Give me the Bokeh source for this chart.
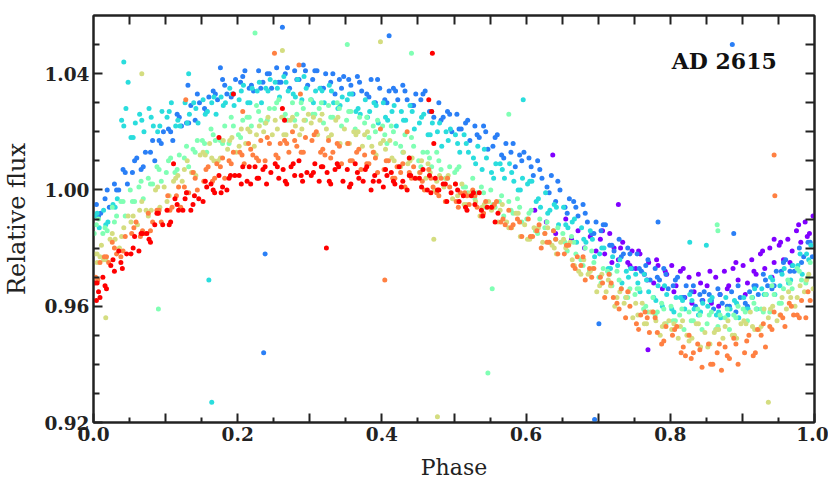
from bokeh.plotting import figure
from bokeh.models import LinearAxis, FixedTicker, Range1d, Label, NumeralTickFormatter
from bokeh.embed import file_html
from bokeh.resources import INLINE

# ---------------- data (phase, relative flux) ----------------
purple_phase = [0.612,0.628,0.641,0.655,0.663,0.672,0.681,0.689,0.697,
    0.703,0.709,0.716,0.722,0.728,0.734,0.741,0.747,0.752,0.758,0.764,0.770,0.777,0.783,0.789,0.795,
    0.802,0.808,0.814,0.820,0.826,0.833,0.839,0.845,0.851,0.857,0.863,0.869,0.875,0.881,0.887,0.894,
    0.901,0.907,0.913,0.919,0.925,0.931,0.938,0.944,0.951,0.957,0.963,0.969,0.975,0.981,0.987,0.993,0.998,
    0.706,0.719,0.731,0.744,0.756,0.768,0.781,0.793,0.805,0.818,0.830,0.842,
    0.855,0.867,0.879,0.891,0.904,0.916,0.928,0.941,0.953,0.966,0.978,0.990,
    0.637,0.728,0.769,0.944]
purple_flux = [0.993,0.989,0.985,0.990,0.983,0.986,0.980,0.984,0.979,
    0.983,0.978,0.985,0.980,0.976,0.982,0.975,0.979,0.973,0.978,0.971,0.975,0.968,0.974,0.966,0.971,
    0.974,0.967,0.972,0.963,0.970,0.965,0.971,0.962,0.967,0.961,0.970,0.964,0.972,0.967,0.973,0.969,
    0.974,0.968,0.976,0.971,0.978,0.973,0.980,0.975,0.981,0.976,0.983,0.979,0.986,0.982,0.989,0.985,0.991,
    0.986,0.975,0.980,0.974,0.979,0.969,0.976,0.972,0.965,0.973,0.961,0.968,
    0.972,0.960,0.966,0.975,0.964,0.972,0.979,0.970,0.982,0.975,0.988,0.984,
    1.012,0.995,0.945,0.983]

blue_phase = [0.004,0.010,0.016,0.022,0.029,0.035,0.041,0.047, 0.054,0.060,0.066,0.072,0.079,0.085,0.091,0.097,
    0.104,0.110,0.116,0.122,0.129,0.135,0.141,0.147, 0.154,0.160,0.166,0.172,0.179,0.185,0.191,0.197,
    0.204,0.210,0.216,0.222,0.229,0.235,0.241,0.247, 0.254,0.260,0.266,0.272,0.279,0.285,0.291,0.297,
    0.304,0.310,0.316,0.322,0.329,0.335,0.341,0.347, 0.354,0.360,0.366,0.372,0.379,0.385,0.391,0.397,
    0.404,0.410,0.416,0.422,0.429,0.435,0.441,0.447, 0.454,0.460,0.466,0.472,0.479,0.485,0.491,0.497,
    0.504,0.510,0.516,0.522,0.529,0.535,0.541,0.547, 0.554,0.560,0.566,0.572,0.579,0.585,0.591,0.597,
    0.604,0.610,0.616,0.622,0.629,0.635,0.641,0.647, 0.654,0.660,0.666,0.672,0.679,0.685,0.691,0.697,
    0.704,0.710,0.716,0.722,0.729,0.735,0.741,0.747, 0.754,0.760,0.766,0.772,0.779,0.785,0.791,0.797,
    0.804,0.810,0.816,0.822,0.829,0.835,0.841,0.847, 0.854,0.860,0.866,0.872,0.879,0.885,0.891,0.897,
    0.904,0.910,0.916,0.922,0.929,0.935,0.941,0.947, 0.954,0.960,0.966,0.972,0.979,0.985,0.991,0.997,
    0.007,0.019,0.032,0.044, 0.057,0.069,0.082,0.094, 0.107,0.119,0.132,0.144, 0.157,0.169,0.182,0.194,
    0.207,0.219,0.232,0.244, 0.257,0.269,0.282,0.294, 0.307,0.319,0.332,0.344, 0.357,0.369,0.382,0.394,
    0.407,0.419,0.432,0.444, 0.457,0.469,0.482,0.494, 0.507,0.519,0.532,0.544, 0.557,0.569,0.582,0.594,
    0.607,0.619,0.632,0.644, 0.657,0.669,0.682,0.694, 0.707,0.719,0.732,0.744, 0.757,0.769,0.782,0.794,
    0.807,0.819,0.832,0.844, 0.857,0.869,0.882,0.894, 0.907,0.919,0.932,0.944, 0.957,0.969,0.982,0.994,
    0.238,0.236,0.262,0.410,0.176,0.695,0.701,0.783,0.886,0.888,0.131]
blue_flux = [0.995,0.992,0.997,0.994,1.002,1.000,1.007,1.002, 1.006,1.011,1.007,1.013,1.013,1.010,1.017,1.020,
    1.021,1.017,1.026,1.022,1.023,1.029,1.024,1.030, 1.028,1.032,1.034,1.031,1.038,1.033,1.032,1.038,
    1.037,1.041,1.035,1.034,1.041,1.037,1.040,1.035, 1.042,1.037,1.040,1.035,1.041,1.038,1.043,1.036,
    1.038,1.041,1.035,1.040,1.037,1.033,1.038,1.039, 1.038,1.033,1.039,1.034,1.033,1.038,1.030,1.035,
    1.031,1.034,1.035,1.031,1.036,1.031,1.029,1.033, 1.031,1.034,1.027,1.025,1.030,1.025,1.027,1.020,
    1.026,1.021,1.023,1.017,1.022,1.018,1.022,1.014, 1.015,1.019,1.012,1.016,1.013,1.008,1.012,1.013,
    1.011,1.005,1.010,1.004,1.001,1.005,0.996,1.000, 0.994,0.997,0.996,0.991,0.995,0.989,0.985,0.989,
    0.986,0.988,0.981,0.979,0.983,0.978,0.980,0.973, 0.978,0.972,0.974,0.969,0.973,0.969,0.973,0.966,
    0.967,0.970,0.963,0.967,0.965,0.960,0.964,0.965, 0.964,0.959,0.966,0.961,0.960,0.965,0.958,0.963,
    0.961,0.965,0.967,0.964,0.971,0.967,0.966,0.972, 0.972,0.976,0.972,0.972,0.980,0.977,0.982,0.977,
    0.991,1.000,1.000,1.006, 1.010,1.008,1.017,1.016, 1.020,1.025,1.023,1.033, 1.027,1.033,1.036,1.033,
    1.039,1.036,1.035,1.040, 1.037,1.042,1.038,1.041, 1.041,1.035,1.040,1.035, 1.036,1.037,1.032,1.038,
    1.030,1.034,1.034,1.029, 1.033,1.027,1.024,1.026, 1.021,1.024,1.019,1.020, 1.018,1.011,1.016,1.010,
    1.008,1.007,0.999,1.003, 0.992,0.994,0.992,0.985, 0.988,0.981,0.977,0.978, 0.973,0.976,0.970,0.971,
    0.969,0.963,0.967,0.962, 0.962,0.964,0.960,0.967, 0.960,0.967,0.969,0.967, 0.975,0.974,0.975,0.982,
    0.978,0.944,1.056,1.053,1.042,0.921,0.954,0.989,1.050,0.985,1.036]

cyan_phase = [0.002,0.008,0.014,0.020,0.027,0.033,0.039,0.045, 0.052,0.058,0.064,0.070,0.077,0.083,0.089,0.095,
    0.102,0.108,0.114,0.120,0.127,0.133,0.139,0.145, 0.152,0.158,0.164,0.170,0.177,0.183,0.189,0.195,
    0.202,0.208,0.214,0.220,0.227,0.233,0.239,0.245, 0.252,0.258,0.264,0.270,0.277,0.283,0.289,0.295,
    0.302,0.308,0.314,0.320,0.327,0.333,0.339,0.345, 0.352,0.358,0.364,0.370,0.377,0.383,0.389,0.395,
    0.402,0.408,0.414,0.420,0.427,0.433,0.439,0.445, 0.452,0.458,0.464,0.470,0.477,0.483,0.489,0.495,
    0.502,0.508,0.514,0.520,0.527,0.533,0.539,0.545, 0.552,0.558,0.564,0.570,0.577,0.583,0.589,0.595,
    0.602,0.608,0.614,0.620,0.627,0.633,0.639,0.645, 0.652,0.658,0.664,0.670,0.677,0.683,0.689,0.695,
    0.702,0.708,0.714,0.720,0.727,0.733,0.739,0.745, 0.752,0.758,0.764,0.770,0.777,0.783,0.789,0.795,
    0.802,0.808,0.814,0.820,0.827,0.833,0.839,0.845, 0.852,0.858,0.864,0.870,0.877,0.883,0.889,0.895,
    0.902,0.908,0.914,0.920,0.927,0.933,0.939,0.945, 0.952,0.958,0.964,0.970,0.977,0.983,0.989,0.995,
    0.005,0.017,0.030,0.042, 0.055,0.067,0.080,0.092, 0.105,0.117,0.130,0.142, 0.155,0.167,0.180,0.192,
    0.205,0.217,0.230,0.242, 0.255,0.267,0.280,0.292, 0.305,0.317,0.330,0.342, 0.355,0.367,0.380,0.392,
    0.405,0.417,0.430,0.442, 0.455,0.467,0.480,0.492, 0.505,0.517,0.530,0.542, 0.555,0.567,0.580,0.592,
    0.605,0.617,0.630,0.642, 0.655,0.667,0.680,0.692, 0.705,0.717,0.730,0.742, 0.755,0.767,0.780,0.792,
    0.805,0.817,0.830,0.842, 0.855,0.867,0.880,0.892, 0.905,0.917,0.930,0.942, 0.955,0.967,0.980,0.992,
    0.160,0.164,0.042,0.048,0.596,0.827,0.850,0.132]
cyan_flux = [0.991,0.987,0.993,0.989,0.995,0.997,1.024,1.028, 1.018,1.023,1.026,1.020,1.028,1.022,1.020,1.027,
    1.025,1.030,1.022,1.022,1.030,1.026,1.030,1.023, 1.031,1.027,1.030,1.026,1.032,1.030,1.035,1.029,
    1.031,1.036,1.030,1.035,1.034,1.030,1.035,1.038, 1.037,1.032,1.039,1.034,1.033,1.038,1.031,1.035,
    1.031,1.034,1.035,1.030,1.036,1.030,1.028,1.032, 1.031,1.033,1.027,1.026,1.031,1.027,1.030,1.023,
    1.030,1.024,1.027,1.022,1.027,1.024,1.029,1.021, 1.023,1.026,1.019,1.023,1.020,1.015,1.020,1.021,
    1.019,1.013,1.019,1.013,1.011,1.015,1.007,1.011, 1.006,1.009,1.009,1.004,1.009,1.003,1.000,1.004,
    1.002,1.003,0.996,0.994,0.999,0.993,0.995,0.988, 0.994,0.987,0.989,0.982,0.987,0.982,0.986,0.977,
    0.978,0.980,0.973,0.977,0.974,0.968,0.972,0.973, 0.971,0.965,0.971,0.965,0.963,0.967,0.960,0.964,
    0.959,0.963,0.963,0.959,0.964,0.959,0.957,0.961, 0.960,0.963,0.957,0.956,0.963,0.959,0.962,0.956,
    0.963,0.959,0.963,0.959,0.966,0.964,0.970,0.964, 0.967,0.973,0.968,0.974,0.974,0.971,0.978,0.981,
    0.992,0.988,0.994,1.022, 1.018,1.024,1.025,1.022, 1.027,1.024,1.023,1.028, 1.026,1.032,1.029,1.033,
    1.034,1.030,1.037,1.034, 1.035,1.037,1.032,1.039, 1.030,1.034,1.034,1.029, 1.033,1.028,1.025,1.029,
    1.025,1.029,1.024,1.027, 1.025,1.019,1.023,1.017, 1.016,1.016,1.009,1.014, 1.004,1.007,1.006,1.000,
    1.003,0.997,0.992,0.994, 0.988,0.990,0.983,0.983, 0.980,0.973,0.976,0.970, 0.968,0.969,0.962,0.967,
    0.958,0.962,0.962,0.958, 0.962,0.958,0.957,0.961, 0.959,0.966,0.964,0.969, 0.971,0.969,0.978,0.976,
    0.969,0.927,1.044,1.037,1.031,0.982,0.981,1.040]

aqua_phase = [0.001,0.007,0.013,0.019,0.026,0.032,0.038,0.044, 0.051,0.057,0.063,0.069,0.076,0.082,0.088,0.094,
    0.101,0.107,0.113,0.119,0.126,0.132,0.138,0.144, 0.151,0.157,0.163,0.169,0.176,0.182,0.188,0.194,
    0.201,0.207,0.213,0.219,0.226,0.232,0.238,0.244, 0.251,0.257,0.263,0.269,0.276,0.282,0.288,0.294,
    0.301,0.307,0.313,0.319,0.326,0.332,0.338,0.344, 0.351,0.357,0.363,0.369,0.376,0.382,0.388,0.394,
    0.401,0.407,0.413,0.419,0.426,0.432,0.438,0.444, 0.451,0.457,0.463,0.469,0.476,0.482,0.488,0.494,
    0.501,0.507,0.513,0.519,0.526,0.532,0.538,0.544, 0.551,0.557,0.563,0.569,0.576,0.582,0.588,0.594,
    0.601,0.607,0.613,0.619,0.626,0.632,0.638,0.644, 0.651,0.657,0.663,0.669,0.676,0.682,0.688,0.694,
    0.701,0.707,0.713,0.719,0.726,0.732,0.738,0.744, 0.751,0.757,0.763,0.769,0.776,0.782,0.788,0.794,
    0.801,0.807,0.813,0.819,0.826,0.832,0.838,0.844, 0.851,0.857,0.863,0.869,0.876,0.882,0.888,0.894,
    0.901,0.907,0.913,0.919,0.926,0.932,0.938,0.944, 0.951,0.957,0.963,0.969,0.976,0.982,0.988,0.994,
    0.004,0.016,0.029,0.041, 0.054,0.066,0.079,0.091, 0.104,0.116,0.129,0.141, 0.154,0.166,0.179,0.191,
    0.204,0.216,0.229,0.241, 0.254,0.266,0.279,0.291, 0.304,0.316,0.329,0.341, 0.354,0.366,0.379,0.391,
    0.404,0.416,0.429,0.441, 0.454,0.466,0.479,0.491, 0.504,0.516,0.529,0.541, 0.554,0.566,0.579,0.591,
    0.604,0.616,0.629,0.641, 0.654,0.666,0.679,0.691, 0.704,0.716,0.729,0.741, 0.754,0.766,0.779,0.791,
    0.804,0.816,0.829,0.841, 0.854,0.866,0.879,0.891, 0.904,0.916,0.929,0.941, 0.954,0.966,0.979,0.991,
    0.090,0.553,0.547,0.576,0.865,0.866,0.224,0.352,0.441]
aqua_flux = [0.985,0.990,0.985,0.986,0.994,0.991,0.996,0.991, 1.000,0.996,1.001,0.997,1.004,1.002,1.008,1.003,
    1.006,1.011,1.006,1.012,1.011,1.008,1.014,1.017, 1.017,1.013,1.021,1.017,1.017,1.022,1.016,1.022,
    1.019,1.024,1.025,1.022,1.029,1.024,1.023,1.028, 1.028,1.031,1.025,1.024,1.030,1.026,1.030,1.024,
    1.031,1.026,1.028,1.023,1.029,1.025,1.030,1.022, 1.024,1.027,1.021,1.025,1.023,1.018,1.022,1.024,
    1.022,1.016,1.022,1.016,1.015,1.019,1.011,1.015, 1.010,1.013,1.013,1.008,1.013,1.007,1.004,1.008,
    1.006,1.008,1.001,0.999,1.004,0.999,1.001,0.994, 1.000,0.994,0.996,0.991,0.996,0.992,0.997,0.989,
    0.990,0.993,0.986,0.990,0.987,0.982,0.986,0.987, 0.985,0.979,0.984,0.978,0.976,0.980,0.972,0.975,
    0.970,0.973,0.972,0.967,0.972,0.966,0.963,0.966, 0.964,0.966,0.959,0.958,0.963,0.958,0.961,0.954,
    0.960,0.955,0.957,0.952,0.958,0.955,0.959,0.952, 0.954,0.958,0.952,0.957,0.956,0.952,0.957,0.960,
    0.959,0.955,0.963,0.959,0.959,0.964,0.958,0.964, 0.961,0.966,0.969,0.966,0.973,0.969,0.968,0.975,
    0.988,0.987,0.989,0.996, 0.996,1.003,1.002,1.007, 1.010,1.007,1.015,1.013, 1.016,1.019,1.016,1.025,
    1.018,1.025,1.027,1.024, 1.030,1.026,1.024,1.028, 1.026,1.030,1.025,1.028, 1.027,1.020,1.025,1.020,
    1.019,1.020,1.013,1.018, 1.008,1.011,1.010,1.004, 1.007,1.001,0.997,0.999, 0.995,0.998,0.993,0.994,
    0.992,0.985,0.989,0.983, 0.982,0.982,0.974,0.979, 0.968,0.971,0.969,0.963, 0.966,0.960,0.957,0.959,
    0.955,0.959,0.955,0.957, 0.957,0.953,0.959,0.956, 0.958,0.961,0.958,0.967, 0.961,0.968,0.972,0.970,
    0.959,0.966,0.937,1.026,0.988,0.986,1.054,1.050,1.047]

khaki_phase = [0.005,0.011,0.017,0.023,0.030,0.036,0.042,0.048, 0.055,0.061,0.067,0.073,0.080,0.086,0.092,0.098,
    0.105,0.111,0.117,0.123,0.130,0.136,0.142,0.148, 0.155,0.161,0.167,0.173,0.180,0.186,0.192,0.198,
    0.205,0.211,0.217,0.223,0.230,0.236,0.242,0.248, 0.255,0.261,0.267,0.273,0.280,0.286,0.292,0.298,
    0.305,0.311,0.317,0.323,0.330,0.336,0.342,0.348, 0.355,0.361,0.367,0.373,0.380,0.386,0.392,0.398,
    0.405,0.411,0.417,0.423,0.430,0.436,0.442,0.448, 0.455,0.461,0.467,0.473,0.480,0.486,0.492,0.498,
    0.505,0.511,0.517,0.523,0.530,0.536,0.542,0.548, 0.555,0.561,0.567,0.573,0.580,0.586,0.592,0.598,
    0.605,0.611,0.617,0.623,0.630,0.636,0.642,0.648, 0.655,0.661,0.667,0.673,0.680,0.686,0.692,0.698,
    0.705,0.711,0.717,0.723,0.730,0.736,0.742,0.748, 0.755,0.761,0.767,0.773,0.780,0.786,0.792,0.798,
    0.805,0.811,0.817,0.823,0.830,0.836,0.842,0.848, 0.855,0.861,0.867,0.873,0.880,0.886,0.892,0.898,
    0.905,0.911,0.917,0.923,0.930,0.936,0.942,0.948, 0.955,0.961,0.967,0.973,0.980,0.986,0.992,0.998,
    0.002,0.014,0.026,0.039, 0.052,0.064,0.076,0.089, 0.102,0.114,0.126,0.139, 0.152,0.164,0.176,0.189,
    0.202,0.214,0.226,0.239, 0.252,0.264,0.276,0.289, 0.302,0.314,0.326,0.339, 0.352,0.364,0.376,0.389,
    0.402,0.414,0.426,0.439, 0.452,0.464,0.476,0.489, 0.502,0.514,0.526,0.539, 0.552,0.564,0.576,0.589,
    0.602,0.614,0.626,0.639, 0.652,0.664,0.676,0.689, 0.702,0.714,0.726,0.739, 0.752,0.764,0.776,0.789,
    0.802,0.814,0.826,0.839, 0.852,0.864,0.876,0.889, 0.902,0.914,0.926,0.939, 0.952,0.964,0.976,0.989,
    0.017,0.477,0.936,0.472,0.398,0.067,0.262,0.005,0.009]
khaki_flux = [0.975,0.981,0.976,0.983,0.983,0.980,0.987,0.991, 0.991,0.988,0.996,0.993,0.993,1.000,0.994,1.001,
    0.998,1.003,1.005,1.003,1.010,1.006,1.005,1.012, 1.012,1.016,1.010,1.010,1.017,1.014,1.018,1.013,
    1.021,1.016,1.020,1.015,1.022,1.020,1.025,1.019, 1.021,1.025,1.019,1.024,1.022,1.019,1.024,1.026,
    1.025,1.019,1.026,1.021,1.019,1.024,1.016,1.021, 1.016,1.020,1.020,1.015,1.020,1.015,1.012,1.016,
    1.014,1.017,1.010,1.008,1.013,1.009,1.011,1.004, 1.010,1.004,1.006,1.000,1.005,1.001,1.005,0.997,
    0.998,1.002,0.995,0.999,0.996,0.991,0.995,0.996, 0.994,0.989,0.995,0.989,0.987,0.992,0.984,0.988,
    0.983,0.987,0.987,0.982,0.987,0.981,0.978,0.982, 0.980,0.982,0.974,0.972,0.976,0.971,0.973,0.965,
    0.971,0.965,0.967,0.960,0.965,0.961,0.965,0.956, 0.957,0.961,0.954,0.958,0.955,0.950,0.954,0.955,
    0.954,0.949,0.955,0.950,0.949,0.954,0.946,0.951, 0.947,0.951,0.952,0.949,0.955,0.950,0.949,0.954,
    0.954,0.958,0.952,0.952,0.959,0.956,0.960,0.955, 0.963,0.959,0.963,0.960,0.967,0.965,0.971,0.966,
    0.978,0.976,0.985,0.984, 0.989,0.993,0.991,1.001, 0.996,1.004,1.007,1.006, 1.013,1.011,1.011,1.017,
    1.015,1.021,1.019,1.023, 1.024,1.019,1.025,1.021, 1.023,1.024,1.018,1.025, 1.016,1.019,1.019,1.013,
    1.017,1.011,1.008,1.010, 1.006,1.009,1.003,1.004, 1.002,0.995,0.999,0.994, 0.993,0.993,0.987,0.992,
    0.983,0.986,0.985,0.980, 0.983,0.976,0.971,0.972, 0.967,0.969,0.963,0.963, 0.961,0.954,0.958,0.953,
    0.952,0.953,0.948,0.954, 0.946,0.952,0.953,0.950, 0.955,0.953,0.953,0.959, 0.957,0.965,0.963,0.969,
    0.956,0.922,0.927,0.983,1.051,1.040,1.048,0.978,0.977]

orange_phase = [0.003,0.009,0.015,0.021,0.026,0.032,0.038,0.044, 0.053,0.059,0.065,0.071,0.076,0.082,0.088,0.094,
    0.103,0.109,0.115,0.121,0.126,0.132,0.138,0.144, 0.153,0.159,0.165,0.171,0.176,0.182,0.188,0.194,
    0.203,0.209,0.215,0.221,0.226,0.232,0.238,0.244, 0.253,0.259,0.265,0.271,0.276,0.282,0.288,0.294,
    0.303,0.309,0.315,0.321,0.326,0.332,0.338,0.344, 0.353,0.359,0.365,0.371,0.376,0.382,0.388,0.394,
    0.403,0.409,0.415,0.421,0.426,0.432,0.438,0.444, 0.453,0.459,0.465,0.471,0.476,0.482,0.488,0.494,
    0.503,0.509,0.515,0.521,0.526,0.532,0.538,0.544, 0.553,0.559,0.565,0.571,0.576,0.582,0.588,0.594,
    0.603,0.609,0.615,0.621,0.626,0.632,0.638,0.644, 0.653,0.659,0.665,0.671,0.676,0.682,0.688,0.694,
    0.703,0.709,0.715,0.721,0.726,0.732,0.738,0.744, 0.753,0.759,0.765,0.771,0.776,0.782,0.788,0.794,
    0.803,0.809,0.815,0.821,0.826,0.832,0.838,0.844, 0.853,0.859,0.865,0.871,0.876,0.882,0.888,0.894,
    0.903,0.909,0.915,0.921,0.926,0.932,0.938,0.944, 0.953,0.959,0.965,0.971,0.976,0.982,0.988,0.994,
    0.006,0.018,0.029,0.041, 0.056,0.068,0.079,0.091, 0.106,0.118,0.129,0.141, 0.156,0.168,0.179,0.191,
    0.206,0.218,0.229,0.241, 0.256,0.268,0.279,0.291, 0.306,0.318,0.329,0.341, 0.356,0.368,0.379,0.391,
    0.406,0.418,0.429,0.441, 0.456,0.468,0.479,0.491, 0.506,0.518,0.529,0.541, 0.556,0.568,0.579,0.591,
    0.606,0.618,0.629,0.641, 0.656,0.668,0.679,0.691, 0.706,0.718,0.729,0.741, 0.756,0.768,0.779,0.791,
    0.806,0.818,0.829,0.841, 0.856,0.868,0.879,0.891, 0.906,0.918,0.929,0.941, 0.956,0.968,0.979,0.991,
    0.251,0.404,0.944,0.945,0.128,0.207,0.287,0.285,0.398,0.435]
orange_flux = [0.970,0.975,0.977,0.975,0.982,0.978,0.977,0.984, 0.985,0.989,0.984,0.985,0.992,0.989,0.993,0.989,
    0.998,0.994,0.998,0.994,1.001,0.999,1.006,1.000, 1.003,1.008,1.003,1.009,1.008,1.004,1.010,1.013,
    1.013,1.009,1.016,1.012,1.011,1.017,1.010,1.016, 1.012,1.016,1.017,1.013,1.020,1.015,1.013,1.018,
    1.017,1.020,1.013,1.012,1.017,1.013,1.016,1.009, 1.016,1.010,1.013,1.007,1.012,1.009,1.013,1.006,
    1.007,1.010,1.004,1.008,1.006,1.001,1.006,1.008, 1.006,1.000,1.007,1.001,0.999,1.004,0.996,1.001,
    0.996,0.999,0.999,0.995,1.000,0.994,0.991,0.996, 0.994,0.996,0.989,0.988,0.993,0.988,0.990,0.984,
    0.990,0.984,0.986,0.980,0.985,0.982,0.986,0.978, 0.978,0.981,0.974,0.977,0.974,0.969,0.973,0.973,
    0.970,0.963,0.971,0.963,0.961,0.966,0.956,0.960, 0.954,0.957,0.958,0.951,0.958,0.951,0.947,0.953,
    0.950,0.953,0.944,0.943,0.950,0.944,0.947,0.939, 0.947,0.940,0.944,0.938,0.946,0.942,0.949,0.940,
    0.944,0.950,0.943,0.952,0.950,0.946,0.953,0.958, 0.957,0.953,0.961,0.957,0.957,0.962,0.956,0.962,
    0.969,0.977,0.980,0.979, 0.987,0.986,0.986,0.993, 0.993,1.001,0.999,1.004, 1.007,1.004,1.011,1.009,
    1.012,1.014,1.010,1.018, 1.011,1.016,1.017,1.013, 1.019,1.014,1.011,1.015, 1.010,1.014,1.009,1.011,
    1.010,1.004,1.009,1.004, 1.003,1.004,0.998,1.004, 0.994,0.998,0.998,0.992, 0.995,0.990,0.987,0.989,
    0.984,0.988,0.982,0.983, 0.981,0.973,0.977,0.970, 0.968,0.968,0.959,0.965, 0.952,0.956,0.956,0.948,
    0.952,0.946,0.942,0.945, 0.940,0.947,0.943,0.947, 0.948,0.944,0.954,0.952, 0.956,0.960,0.956,0.965,
    1.047,0.969,1.012,0.998,1.031,1.027,1.033,1.043,1.021,1.020]

red_phase = [0.002,0.007,0.013,0.018,0.024,0.029,0.035,0.040,0.046, 0.052,0.057,0.063,0.068,0.074,0.079,0.085,0.090,0.096,
    0.102,0.107,0.113,0.118,0.124,0.129,0.135,0.140,0.146, 0.152,0.157,0.163,0.168,0.174,0.179,0.185,0.190,0.196,
    0.202,0.207,0.213,0.218,0.224,0.229,0.235,0.240,0.246, 0.252,0.257,0.263,0.268,0.274,0.279,0.285,0.290,0.296,
    0.302,0.307,0.313,0.318,0.324,0.329,0.335,0.340,0.346, 0.352,0.357,0.363,0.368,0.374,0.379,0.385,0.390,0.396,
    0.402,0.407,0.413,0.418,0.424,0.429,0.435,0.440,0.446, 0.452,0.457,0.463,0.468,0.474,0.479,0.485,0.490,0.496,
    0.502,0.507,0.513,0.518,0.524,0.529,0.535,0.540,0.546, 0.552,0.557,0.561,
    0.005,0.016,0.027,0.038, 0.055,0.066,0.077,0.088, 0.105,0.116,0.127,0.138, 0.155,0.166,0.177,0.188,
    0.205,0.216,0.227,0.238, 0.255,0.266,0.277,0.288, 0.305,0.316,0.327,0.338, 0.355,0.366,0.377,0.388,
    0.405,0.416,0.427,0.438, 0.455,0.466,0.477,0.488, 0.505,0.516,0.527,0.538,
    0.323,0.470,0.465,0.469,0.472,0.438,0.194,0.262,0.265,0.111,0.174,0.004,0.009]
red_flux = [0.968,0.965,0.970,0.966,0.974,0.972,0.979,0.973,0.978, 0.978,0.984,0.979,0.985,0.985,0.982,0.988,0.992,0.988,
    0.993,0.989,0.997,0.993,0.993,0.999,0.993,0.998,0.997, 0.996,1.001,1.002,0.999,1.005,1.001,1.000,1.005,1.005,
    1.005,1.008,1.003,1.002,1.008,1.004,1.007,1.002,1.006, 1.009,1.004,1.007,1.002,1.008,1.005,1.010,1.003,1.006,
    1.005,1.009,1.003,1.008,1.006,1.002,1.007,1.008,1.003, 1.007,1.002,1.009,1.004,1.003,1.008,1.000,1.005,1.003,
    1.001,1.005,1.006,1.002,1.008,1.003,1.000,1.005,1.004, 1.004,1.007,1.000,0.999,1.004,1.000,1.002,0.996,0.999,
    1.002,0.996,0.998,0.993,0.998,0.995,0.999,0.991,0.994, 0.994,0.989,0.992,
    0.968,0.967,0.976,0.975, 0.980,0.985,0.983,0.992, 0.988,0.995,0.997,0.995, 1.003,1.000,0.999,1.004,
    1.002,1.008,1.004,1.008, 1.008,1.003,1.009,1.005, 1.006,1.008,1.003,1.009, 1.001,1.006,1.007,1.003,
    1.007,1.003,1.001,1.005, 1.001,1.005,1.000,1.002, 1.000,0.994,0.999,0.993,
    0.980,1.047,1.031,1.027,1.016,1.011,1.033,1.028,1.024,1.009,1.018,0.962,0.963]

series = [
    (purple_phase, purple_flux, "#8000ff"),
    (blue_phase, blue_flux, "#2a7ff6"),
    (cyan_phase, cyan_flux, "#2adddd"),
    (aqua_phase, aqua_flux, "#80ffb4"),
    (khaki_phase, khaki_flux, "#d4dd80"),
    (orange_phase, orange_flux, "#ff8042"),
    (red_phase, red_flux, "#ff0000"),
]

x_major = [0.0, 0.1, 0.2, 0.3, 0.4, 0.5, 0.6, 0.7, 0.8, 0.9, 1.0]
x_minor = [0.05, 0.15, 0.25, 0.35, 0.45, 0.55, 0.65, 0.75, 0.85, 0.95]
x_hidden = {0.1: "", 0.3: "", 0.5: "", 0.7: "", 0.9: ""}
y_major = [0.92, 0.96, 1.00, 1.04]
y_minor = [0.93, 0.94, 0.95, 0.97, 0.98, 0.99, 1.01, 1.02, 1.03, 1.05]
top_ticks = [0.05, 0.1, 0.15, 0.2, 0.25, 0.3, 0.35, 0.4, 0.45, 0.5, 0.55, 0.6, 0.65, 0.7, 0.75, 0.8, 0.85, 0.9, 0.95]
right_ticks = [0.93, 0.94, 0.95, 0.96, 0.97, 0.98, 0.99, 1.00, 1.01, 1.02, 1.03, 1.04, 1.05]

# ---------------- figure ----------------
INK = "#222222"
FONT = "DejaVu Serif"

p = figure(width=828, height=484, x_range=Range1d(0, 1), y_range=Range1d(0.92, 1.06),
           output_backend="svg", toolbar_location=None,
           min_border_left=91, min_border_right=14, min_border_top=15, min_border_bottom=62,
           x_axis_label="Phase", y_axis_label="Relative flux")
p.grid.visible = False
p.outline_line_color = INK
p.outline_line_width = 2
p.background_fill_color = "white"
p.border_fill_color = "white"

for px, py, col in series:
    p.scatter(px, py, size=5, fill_color=col, line_color=None)


def style_axis(ax, ticks, minor, major_len, minor_len):
    ax.ticker = FixedTicker(ticks=ticks, minor_ticks=minor)
    ax.major_tick_in = major_len
    ax.major_tick_out = 0
    ax.minor_tick_in = minor_len
    ax.minor_tick_out = 0
    ax.axis_line_color = INK
    ax.axis_line_width = 2
    ax.major_tick_line_color = INK
    ax.major_tick_line_width = 2
    ax.minor_tick_line_color = INK
    ax.minor_tick_line_width = 2
    ax.major_label_text_font = FONT
    ax.major_label_text_font_style = "bold"
    ax.major_label_text_font_size = "18.5px"
    ax.major_label_text_color = INK
    ax.axis_label_text_font = FONT
    ax.axis_label_text_font_style = "normal"
    ax.axis_label_text_color = INK


xb = p.xaxis[0]
style_axis(xb, x_major, x_minor, 9, 5)
xb.formatter = NumeralTickFormatter(format="0.0")
xb.major_label_overrides = x_hidden
xb.major_label_standoff = 4
xb.axis_label_standoff = 11
xb.axis_label_text_font_size = "22px"

yl = p.yaxis[0]
style_axis(yl, y_major, y_minor, 9, 6)
yl.formatter = NumeralTickFormatter(format="0.00")
yl.major_label_standoff = 4
yl.axis_label_standoff = 10
yl.axis_label_text_font_size = "24px"

# frame ticks on the top and right sides (no labels: only minor ticks are used)
top = LinearAxis()
style_axis(top, [], top_ticks, 0, 9)
p.add_layout(top, "above")

right = LinearAxis()
style_axis(right, [], right_ticks, 0, 9)
p.add_layout(right, "right")

p.add_layout(Label(x=0.802, y=1.0444, text="AD 2615", text_font=FONT,
                   text_font_style="bold", text_font_size="22px", text_color="#111111",
                   text_align="left", text_baseline="alphabetic"))

open("out.html", "w").write(file_html(p, INLINE))
